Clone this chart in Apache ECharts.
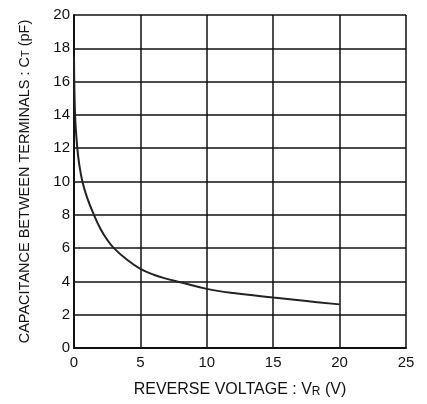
<!DOCTYPE html>
<html>
<head>
<meta charset="utf-8">
<script src="https://cdn.jsdelivr.net/npm/echarts@6/dist/echarts.min.js"></script>
<style>
  html,body{margin:0;padding:0;background:#fff;}
  #chart{width:427px;height:404px;}
</style>
</head>
<body>
<div id="chart"></div>
<script>
// reverse voltage (V) vs capacitance (pF)
var voltage = [0, 0.08, 0.25, 0.4, 0.63, 1, 1.5, 2, 2.5, 3, 4, 5, 6, 7, 8, 10, 12, 15, 17.5, 20];
var capacitance = [17.5, 14, 12, 11, 10, 9.0, 8.0, 7.15, 6.5, 6.0, 5.3, 4.75, 4.4, 4.15, 3.95, 3.55, 3.3, 3.03, 2.82, 2.62];
var xTicks = [0, 5, 10, 15, 20, 25];
var yTicks = [0, 2, 4, 6, 8, 10, 12, 14, 16, 18, 20];

var points = voltage.map(function(v, i){ return [v, capacitance[i]]; });

var chart = echarts.init(document.getElementById('chart'));
var font = 'Liberation Sans, Arial, sans-serif';
var option = {
  backgroundColor: '#fff',
  animation: false,
  grid: { left: 74, right: 21, top: 15, bottom: 56 },
  xAxis: {
    type: 'value',
    min: xTicks[0],
    max: xTicks[xTicks.length - 1],
    interval: 5,
    name: 'REVERSE VOLTAGE : V{s|R} (V)',
    nameLocation: 'middle',
    nameGap: 34,
    nameTextStyle: {
      color: '#111', fontSize: 16, fontFamily: font,
      rich: { s: { fontSize: 12, fontFamily: font, color: '#111', padding: [3, 0, 0, 0] } }
    },
    axisLine: { show: true, lineStyle: { color: '#111', width: 2 } },
    axisTick: { show: false },
    axisLabel: { color: '#111', fontSize: 15, fontFamily: font, margin: 7 },
    splitLine: { show: true, lineStyle: { color: '#111', width: 1.5 } }
  },
  yAxis: {
    type: 'value',
    min: yTicks[0],
    max: yTicks[yTicks.length - 1],
    interval: 2,
    name: 'CAPACITANCE BETWEEN TERMINALS : C{s|T} (pF)',
    nameLocation: 'middle',
    nameGap: 42,
    nameTextStyle: {
      color: '#111', fontSize: 14.5, fontFamily: font,
      rich: { s: { fontSize: 11, fontFamily: font, color: '#111', padding: [3, 0, 0, 0] } }
    },
    axisLine: { show: true, lineStyle: { color: '#111', width: 2 } },
    axisTick: { show: false },
    axisLabel: { color: '#111', fontSize: 15, fontFamily: font, margin: 4 },
    splitLine: { show: true, lineStyle: { color: '#111', width: 1.5 } }
  },
  series: [{
    type: 'line',
    data: points,
    smooth: 0.4,
    symbol: 'none',
    lineStyle: { color: '#222', width: 2 }
  }]
};
chart.setOption(option);
</script>
</body>
</html>
